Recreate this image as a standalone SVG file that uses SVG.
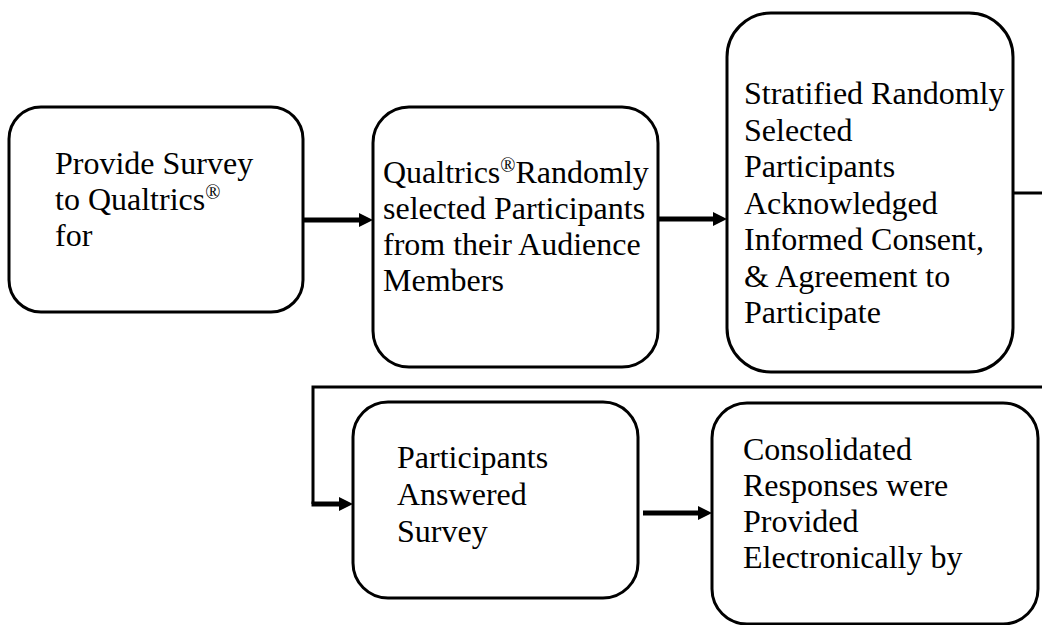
<svg xmlns="http://www.w3.org/2000/svg" width="1042" height="625" viewBox="0 0 1042 625">
<style>
.box{fill:#fff;stroke:#000;stroke-width:3}
.t{font-family:"Liberation Serif","Times New Roman",serif;font-size:32px;fill:#000}
.sup{font-size:20px}
.c{fill:none;stroke:#000;stroke-linejoin:miter}
.thick{stroke-width:5}
.thin{stroke-width:3}
</style>
<defs>
<marker id="ah" markerUnits="userSpaceOnUse" markerWidth="16" markerHeight="16" refX="0" refY="8" orient="auto" viewBox="0 0 16 16">
<path d="M0,1 L14,8 L0,15 Z" fill="#000"/>
</marker>
</defs>
<rect width="1042" height="625" fill="#fff"/>
<g id="connectors">
<path class="c thick" d="M303,220 H359" marker-end="url(#ah)"/>
<path class="c thick" d="M658,219 H713" marker-end="url(#ah)"/>
<path class="c thin" d="M1013,193 H1042"/>
<path class="c thin" d="M1042,387 H313 V504"/>
<path class="c thick" d="M311.5,504 H339" marker-end="url(#ah)"/>
<path class="c thick" d="M643,513 H698" marker-end="url(#ah)"/>
</g>
<g id="n1">
<rect class="box" x="9" y="107" width="294" height="205" rx="32"/>
<text class="t" x="55" y="174">Provide Survey</text>
<text class="t" x="55" y="210">to Qualtrics<tspan class="sup" dy="-11">®</tspan></text>
<text class="t" x="55" y="246">for</text>
</g>
<g id="n2">
<rect class="box" x="373" y="107" width="285" height="260" rx="36"/>
<text class="t" x="383" y="183">Qualtrics<tspan class="sup" dy="-11">®</tspan><tspan dy="11">Randomly</tspan></text>
<text class="t" x="383" y="219">selected Participants</text>
<text class="t" x="383" y="255">from their Audience</text>
<text class="t" x="383" y="291">Members</text>
</g>
<g id="n3">
<rect class="box" x="727" y="13" width="286" height="359" rx="44"/>
<text class="t" x="744" y="104">Stratified Randomly</text>
<text class="t" x="744" y="140.5">Selected</text>
<text class="t" x="744" y="177">Participants</text>
<text class="t" x="744" y="213.5">Acknowledged</text>
<text class="t" x="744" y="250">Informed Consent,</text>
<text class="t" x="744" y="286.5">&amp; Agreement to</text>
<text class="t" x="744" y="323">Participate</text>
</g>
<g id="n4">
<rect class="box" x="353" y="402" width="285" height="196" rx="35"/>
<text class="t" x="397" y="468">Participants</text>
<text class="t" x="397" y="505">Answered</text>
<text class="t" x="397" y="542">Survey</text>
</g>
<g id="n5">
<rect class="box" x="712" y="403" width="326" height="221" rx="35"/>
<text class="t" x="743" y="460">Consolidated</text>
<text class="t" x="743" y="496">Responses were</text>
<text class="t" x="743" y="532">Provided</text>
<text class="t" x="743" y="568">Electronically by</text>
</g>
</svg>
